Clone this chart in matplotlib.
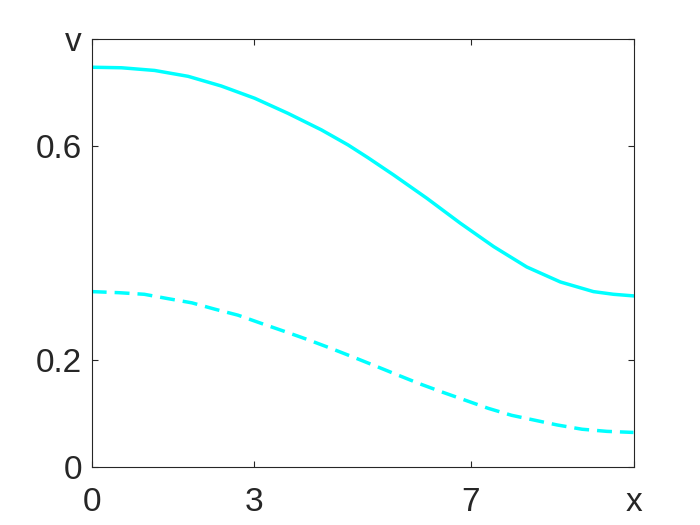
import matplotlib
matplotlib.use('Agg')
import matplotlib.pyplot as plt

# values
x_solid = [0.0, 0.55, 1.16, 1.78, 2.39, 3.01, 3.62, 4.24, 4.73, 5.10, 5.57,
           6.19, 6.80, 7.42, 8.03, 8.65, 9.26, 9.63, 10.0]
v_solid = [0.747, 0.746, 0.741, 0.730, 0.712, 0.689, 0.661, 0.630, 0.602,
           0.578, 0.546, 0.502, 0.456, 0.412, 0.374, 0.346, 0.328, 0.323, 0.320]

x_dash = [0.0, 0.50, 0.97, 1.40, 1.85, 2.28, 2.70, 3.12, 3.55, 3.97, 4.39,
          4.82, 5.24, 5.63, 6.05, 6.48, 6.90, 7.32, 7.75, 8.17, 8.59, 9.05,
          9.51, 10.0]
v_dash = [0.328, 0.326, 0.323, 0.315, 0.307, 0.295, 0.284, 0.269, 0.254,
          0.239, 0.223, 0.206, 0.189, 0.173, 0.156, 0.140, 0.125, 0.110,
          0.097, 0.088, 0.079, 0.071, 0.067, 0.065]

xticks = [0, 3, 7, 10]
xticklabels = ['0', '3', '7', 'x']
yticks = [0, 0.2, 0.6, 0.8]
yticklabels = ['0', '0.2', '0.6', 'v']

axcol = (0.15, 0.15, 0.15)
cyan = '#00ffff'

plt.rcParams['font.family'] = ['Liberation Sans', 'DejaVu Sans']

fig = plt.figure(figsize=(7, 5.25), dpi=100)
ax = fig.add_axes([0.131, 0.11, 0.774, 0.816])

ax.plot(x_solid, v_solid, color=cyan, lw=2.5, solid_joinstyle='round')
ax.plot(x_dash, v_dash, color=cyan, lw=2.5, linestyle=(0, (4.3, 2.3)))

ax.set_xlim(0, 10)
ax.set_ylim(0, 0.8)
ax.set_xticks(xticks)
ax.set_xticklabels(xticklabels)
ax.set_yticks(yticks)
ax.set_yticklabels(yticklabels)

ax.tick_params(direction='in', length=4, width=0.8, color=axcol,
               labelcolor=axcol, labelsize=24, top=True, right=True)
ax.tick_params(axis='x', pad=14)
ax.tick_params(axis='y', pad=7)
for s in ax.spines.values():
    s.set_color(axcol)
    s.set_linewidth(0.8)

fig.savefig('out.png', dpi=100)
